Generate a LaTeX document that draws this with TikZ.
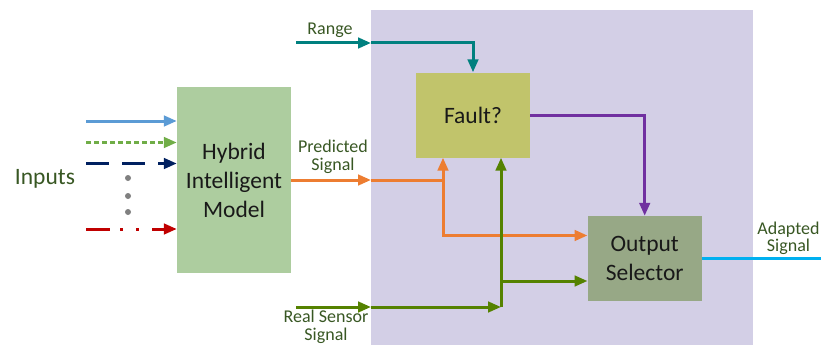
\documentclass[tikz,border=0pt]{standalone}
\usepackage{fontspec}
\setmainfont{Carlito}
\usetikzlibrary{arrows.meta}

\definecolor{panelbg}{HTML}{D3CFE6}
\definecolor{hybridfill}{HTML}{ADCD9F}
\definecolor{faultfill}{HTML}{C1C46B}
\definecolor{outfill}{HTML}{97A886}
\definecolor{labelgreen}{HTML}{385723}
\definecolor{inblue}{HTML}{5B9BD5}
\definecolor{ingreen}{HTML}{70AD47}
\definecolor{innavy}{HTML}{002060}
\definecolor{inred}{HTML}{C00000}
\definecolor{rangeteal}{HTML}{00807F}
\definecolor{predorange}{HTML}{ED7D31}
\definecolor{sensorgreen}{HTML}{558200}
\definecolor{faultpurple}{HTML}{7030A0}
\definecolor{adaptcyan}{HTML}{00B0F0}

\tikzset{
  block/.style={draw=none, minimum width=114pt, inner sep=0pt, align=center,
    font=\fontsize{23.5}{29}\selectfont, text=black!90},
  lbl/.style={align=center, text=labelgreen, font=\fontsize{18}{17.5}\selectfont},
  wire/.style={line width=3pt, -{Triangle[length=13pt,width=10.5pt]}},
  plain/.style={line width=3pt},
}

\begin{document}
\begin{tikzpicture}[x=1pt,y=-1pt]
  \useasboundingbox (0,0) rectangle (821,345);

  % shaded region holding the fault logic
  \node[fill=panelbg, minimum width=382pt, minimum height=335pt, inner sep=0pt,
        anchor=north west] (panel) at (371,10) {};

  % blocks
  \node[block, fill=hybridfill, minimum height=186pt] (hybrid) at (234,180)
       {Hybrid\\Intelligent\\Model};
  \node[block, fill=faultfill, minimum height=85pt] (fault) at (473,115) {Fault?};
  \node[block, fill=outfill, minimum height=85pt] (out) at (644.7,258.5)
       {Output\\Selector};

  % inputs
  \node[text=labelgreen, font=\fontsize{23.5}{29}\selectfont] (inputs) at (45,179) {Inputs};
  \coordinate (i1) at (86,121);
  \coordinate (i2) at (86,142.5);
  \coordinate (i3) at (86,163.5);
  \coordinate (i4) at (86,229);
  \draw[wire, color=inblue] (i1) -- (i1 -| hybrid.west);
  \draw[wire, color=ingreen, dash pattern=on 4.5pt off 3.5pt] (i2) -- (i2 -| hybrid.west);
  \draw[wire, color=innavy, dash pattern=on 23pt off 13pt] (i3) -- (i3 -| hybrid.west);
  \draw[wire, color=inred,
        dash pattern=on 24pt off 10pt on 3pt off 13pt on 3pt off 13pt] (i4) -- (i4 -| hybrid.west);
  \foreach \yy [count=\k] in {178,196,212}
    \fill[gray] (128,\yy) circle (3pt) coordinate (dot\k);

  % range input to the fault check
  \node[lbl] (rangelbl) at (330,30) {Range};
  \coordinate (rs) at (296,43);
  \coordinate (rp) at (rs -| panel.west);
  \draw[wire, color=rangeteal] (rs) -- (rp);
  \draw[wire, color=rangeteal] (rp) -| (fault.north);

  % predicted signal
  \node[lbl] (predlbl) at (333,157) {Predicted\\Signal};
  \coordinate (pp) at (hybrid.east -| panel.west);
  \coordinate (pj) at (443,180);
  \coordinate (pl) at (443,235.5);
  \draw[wire, color=predorange] (hybrid.east) -- (pp);
  \draw[wire, color=predorange] (pp) -- (pj) -- (pj |- fault.south);
  \draw[wire, color=predorange] (pj) -- (pl) -- (pl -| out.west);

  % real sensor signal
  \node[lbl] (senslbl) at (326,327) {Real Sensor\\Signal};
  \coordinate (ss) at (296,307);
  \coordinate (sp) at (ss -| panel.west);
  \coordinate (sj) at (501,307);
  \coordinate (sb) at (501,281);
  \draw[wire, color=sensorgreen] (ss) -- (sp);
  \draw[wire, color=sensorgreen] (sp) -- (sj);
  \draw[wire, color=sensorgreen] (sj) -- (sj |- fault.south);
  \draw[wire, color=sensorgreen] (sb) -- (sb -| out.west);

  % fault decision to the selector
  \coordinate (fc) at (out.north |- fault.east);
  \draw[wire, color=faultpurple] (fault.east) -- (fc) -- (out.north);

  % adapted output
  \coordinate (ae) at (821,258);
  \draw[plain, color=adaptcyan] (out.east |- ae) -- (ae);
  \node[lbl] (adaptlbl) at (788.5,238.5) {Adapted\\Signal};
\end{tikzpicture}
\end{document}
